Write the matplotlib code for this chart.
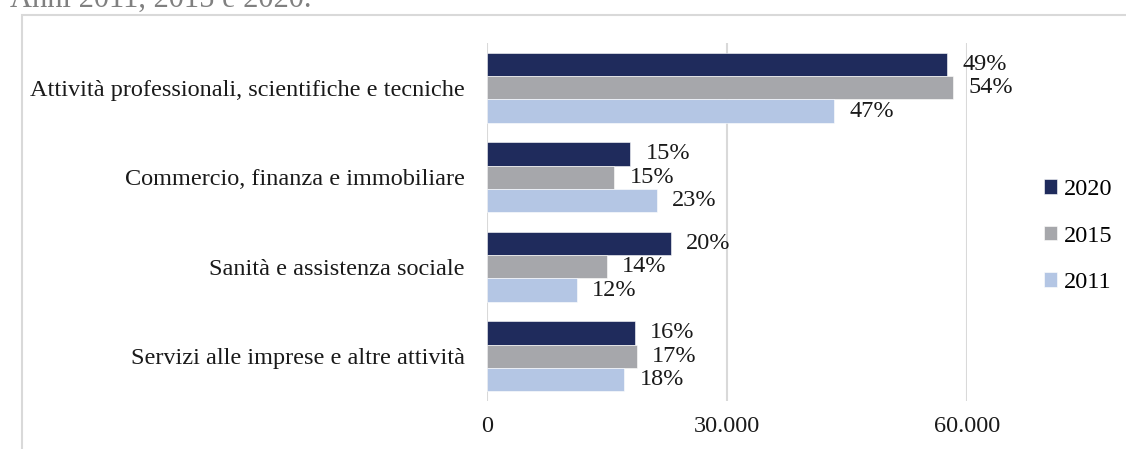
import matplotlib
matplotlib.use("Agg")
import matplotlib.pyplot as plt
from matplotlib.patches import Rectangle
import numpy as np

plt.rcParams['font.family'] = ['Liberation Serif', 'DejaVu Serif']

# data
categories = ["Attività professionali, scientifiche e tecniche",
              "Commercio, finanza e immobiliare",
              "Sanità e assistenza sociale",
              "Servizi alle imprese e altre attività"]
years = ["2020", "2015", "2011"]
v2020 = [57500, 17900, 23000, 18500]
v2015 = [58300, 15900, 15000, 18750]
v2011 = [43400, 21250, 11250, 17150]
p2020 = ["49%", "15%", "20%", "16%"]
p2015 = ["54%", "15%", "14%", "17%"]
p2011 = ["47%", "23%", "12%", "18%"]
xticks = [0, 30000, 60000]
xticklabels = ["0", "30.000", "60.000"]

colors = ["#1F2B5C", "#A6A7AB", "#B4C6E4"]
values = [v2020, v2015, v2011]
pcts = [p2020, p2015, p2011]
fs = 17.5

fig = plt.figure(figsize=(11.26, 4.49), dpi=100)
W, H = 1126, 449
ax = fig.add_axes([487 / W, 1 - 401 / H, (967 - 487) / W, (401 - 43) / H])

y = np.arange(len(categories))
h = 0.26
for i, (vals, lab, col, pc) in enumerate(zip(values, years, colors, pcts)):
    bars = ax.barh(y + (i - 1) * h, vals, height=h, color=col, label=lab,
                   edgecolor="white", linewidth=0.4, zorder=2)
    ax.bar_label(bars, labels=pc, padding=11, fontsize=fs, color="#1a1a1a")

ax.set_ylim(len(categories) - 0.5, -0.5)
ax.set_xlim(0, 60000)
ax.set_yticks(y)
ax.set_yticklabels(categories, fontsize=fs, color="#1a1a1a")
ax.set_xticks(xticks)
ax.set_xticklabels(xticklabels, fontsize=fs, color="#1a1a1a")
ax.tick_params(length=0)
ax.tick_params(axis="y", pad=16)
ax.tick_params(axis="x", pad=11)
ax.xaxis.grid(True, color="#D9D9D9", linewidth=1.5, zorder=0)
ax.set_axisbelow(True)
for s in ax.spines.values():
    s.set_visible(False)

fig.legend(loc="center left", bbox_to_anchor=(1044 / W, 1 - 236 / H),
           frameon=False, fontsize=fs, handlelength=0.55, handleheight=0.55,
           handletextpad=0.25, labelspacing=1.05, borderpad=0,
           borderaxespad=0)

# outer frame (cut by the image edges) and partial subtitle
fig.patches.append(Rectangle((22 / W, -0.2), 1.2, 1 - 15 / H + 0.2,
                             transform=fig.transFigure, fill=False,
                             edgecolor="#D9D9D9", linewidth=1.5))
fig.text(10 / W, 1 - 7 / H, "Anni 2011, 2015 e 2020.", fontsize=22,
         color="#808080", va="baseline", ha="left")

fig.savefig("out.png", dpi=100)
